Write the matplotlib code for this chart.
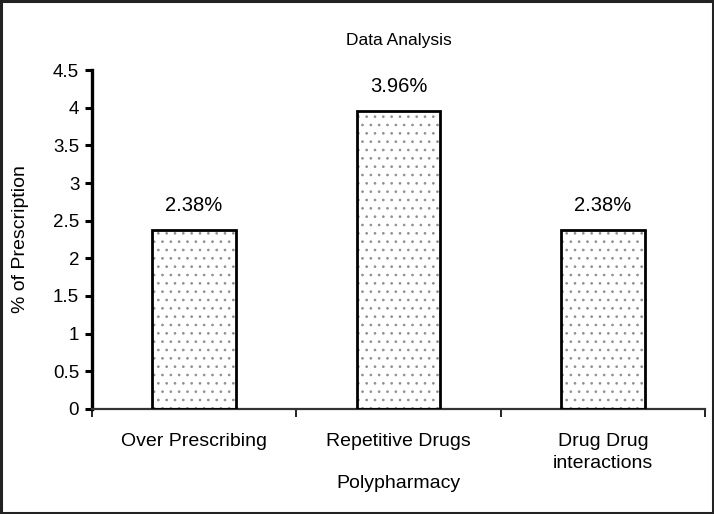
import numpy as np
import matplotlib.pyplot as plt
from matplotlib.ticker import FixedLocator, NullFormatter

plt.rcParams['font.family'] = ['Liberation Sans', 'DejaVu Sans']
plt.rcParams['hatch.linewidth'] = 0.7

# data
categories = ['Over Prescribing', 'Repetitive Drugs', 'Drug Drug\ninteractions']
values = [2.38, 3.96, 2.38]
value_labels = ['2.38%', '3.96%', '2.38%']
yticks = [0, 0.5, 1, 1.5, 2, 2.5, 3, 3.5, 4, 4.5]
ytick_labels = ['0', '0.5', '1', '1.5', '2', '2.5', '3', '3.5', '4', '4.5']

fig = plt.figure(figsize=(7.14, 5.14), dpi=100)
ax = fig.add_axes([0.1285, 0.2043, 0.859, 0.6595])

x = np.arange(len(categories))
# dotted fill (gray dots), black outline drawn on top
ax.bar(x, values, width=0.41, color='white', edgecolor='#909090',
       hatch='..', linewidth=0, zorder=2)
ax.bar(x, values, width=0.41, fill=False, edgecolor='black',
       linewidth=2.0, zorder=3)

for xi, v, lab in zip(x, values, value_labels):
    ax.text(xi, v + 0.2, lab, ha='center', va='bottom', fontsize=14.5)

ax.set_xlim(-0.5, 2.5)
ax.set_ylim(0, 4.5)
ax.set_yticks(yticks)
ax.set_yticklabels(ytick_labels)

# tick marks on category boundaries, labels centred under bars
ax.xaxis.set_major_locator(FixedLocator([-0.5, 0.5, 1.5, 2.5]))
ax.xaxis.set_major_formatter(NullFormatter())
ax.xaxis.set_minor_locator(FixedLocator(x))
ax.set_xticklabels(categories, minor=True, linespacing=1.4)
ax.tick_params(axis='x', which='minor', length=0, pad=17, labelsize=14)
ax.tick_params(axis='x', which='major', length=6, width=1.4, direction='out',
               color='#222222')
ax.tick_params(axis='y', length=5, width=2.2, pad=4, labelsize=13.5)

for s in ['top', 'right']:
    ax.spines[s].set_visible(False)
ax.spines['left'].set_linewidth(2.4)
ax.spines['bottom'].set_linewidth(1.6)
ax.spines['bottom'].set_color('#333333')

ax.set_title('Data Analysis', fontsize=12.5, pad=18)
ax.set_xlabel('Polypharmacy', fontsize=14, va='center')
ax.xaxis.set_label_coords(0.5, -0.221)
ax.set_ylabel('% of Prescription', fontsize=14, va='center')
ax.yaxis.set_label_coords(-0.116, 0.5)

# outer frame around the whole figure
fig.patches.append(plt.Rectangle((0.002, 0.002), 0.996, 0.996, transform=fig.transFigure,
                                 fill=False, edgecolor='#222222', linewidth=2.2))

fig.savefig('out.png', dpi=100)
